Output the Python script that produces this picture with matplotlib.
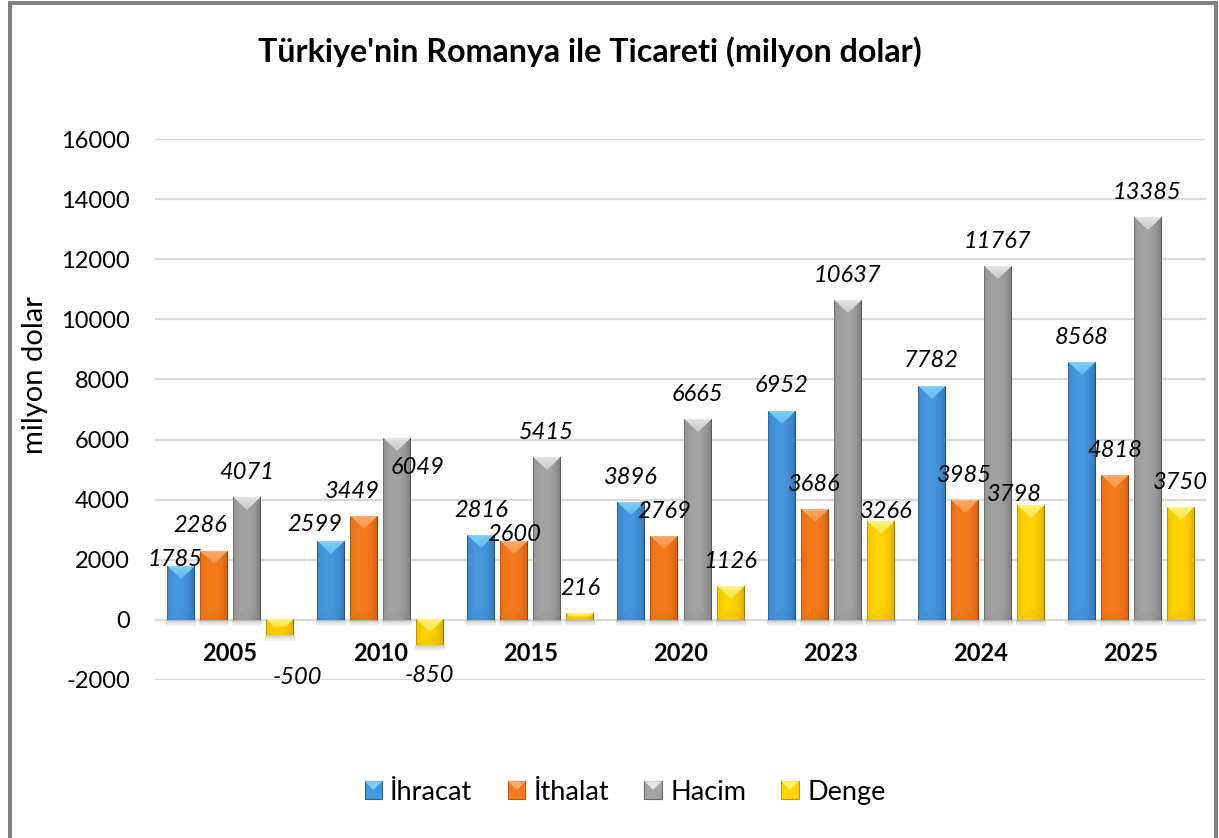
import numpy as np
import matplotlib
matplotlib.use("Agg")
import matplotlib.pyplot as plt
from matplotlib.colors import to_rgb
from matplotlib.patches import Rectangle, Polygon
from matplotlib.lines import Line2D
from matplotlib.legend_handler import HandlerBase

# ---------------- data ----------------
years = ["2005", "2010", "2015", "2020", "2023", "2024", "2025"]
ihracat = [1785, 2599, 2816, 3896, 6952, 7782, 8568]
ithalat = [2286, 3449, 2600, 2769, 3686, 3985, 4818]
hacim = [4071, 6049, 5415, 6665, 10637, 11767, 13385]
denge = [-500, -850, 216, 1126, 3266, 3798, 3750]
series_names = ["İhracat", "İthalat", "Hacim", "Denge"]
title = "Türkiye'nin Romanya ile Ticareti (milyon dolar)"
ylabel = "milyon dolar"
yticks = [-2000, 0, 2000, 4000, 6000, 8000, 10000, 12000, 14000, 16000]

# ---------------- style ----------------
plt.rcParams["font.family"] = ["Lato", "DejaVu Sans"]
plt.rcParams["axes.unicode_minus"] = False
W_PX, H_PX = 1219, 838
series_colors = [
    dict(base="#4597DE", dark="#2B63A3", light="#7DD0F7"),   # İhracat
    dict(base="#F57A1C", dark="#C2520C", light="#FBA869"),   # İthalat
    dict(base="#A3A3A3", dark="#6B6B6B", light="#E4E4E4"),   # Hacim
    dict(base="#FFD400", dark="#C99600", light="#FFF07A"),   # Denge
]
# manual label nudges (dx px, dy px from bar end) for (series, category)
label_nudge = {
    (0, 0): (-5, 9), (1, 0): (-13, 28), (3, 0): (18, -41),
    (0, 1): (-16, 19), (1, 1): (-11, 27), (2, 1): (21, -27),
    (1, 2): (0, 9),
    (3, 4): (6, 12),
    (3, 5): (-16, 13),
}

fig = plt.figure(figsize=(W_PX / 100, H_PX / 100), dpi=100)
ax = fig.add_axes([155 / W_PX, 1 - 680 / H_PX, (1206 - 155) / W_PX, (680 - 139) / H_PX])
ax.set_xlim(-0.5, len(years) - 0.5)
ax.set_ylim(-2000, 16000)
ax.set_yticks(yticks)
ax.yaxis.grid(True, color="#D9D9D9", lw=1.6)
ax.set_axisbelow(True)
for s in ax.spines.values():
    s.set_visible(False)
ax.spines["bottom"].set_position(("data", 0))
ax.tick_params(axis="y", length=0, pad=18, labelsize=17)
x = np.arange(len(years))
ax.set_xticks(x)
ax.set_xticklabels(years, fontweight="bold", fontsize=17)
ax.tick_params(axis="x", length=0, pad=16)


def make_img(W, H, c):
    base, dark, light = (np.array(to_rgb(c[k])) for k in ("base", "dark", "light"))
    xs = (np.arange(W) + 0.5) / W
    prof = np.clip(1 - ((xs - 0.42) / 0.6) ** 2, 0, 1) ** 0.6
    body = dark[None, :] + (base - dark)[None, :] * prof[:, None]
    img = np.tile(body[None, :, :], (H, 1, 1))
    ys = np.arange(H) + 0.5
    xp = np.arange(W) + 0.5
    side = np.minimum(xp, W - xp)
    b = min(W / 2.0, H / 2.0)
    top = (ys[:, None] < side[None, :]) & (ys[:, None] < b)
    t = np.clip(1 - ys / max(b, 1), 0, 1)[:, None, None]
    lite = light[None, None, :] * (0.55 + 0.45 * t) + img * (0.45 - 0.45 * t)
    img = np.where(top[..., None], lite, img)
    bot = ((H - ys)[:, None] < side[None, :]) & ((H - ys)[:, None] < b)
    img = np.where(bot[..., None], img * 0.97, img)
    img[:, 0] *= 0.8
    img[:, -1] *= 0.72
    img[0, :] = img[0, :] * 0.9 + 0.1
    return np.clip(img, 0, 1)


values = [ihracat, ithalat, hacim, denge]
width, step = 0.18, 0.22
offsets = (np.arange(len(series_names)) - 1.5) * step
containers = []
for si, (vals, c) in enumerate(zip(values, series_colors)):
    bc = ax.bar(x + offsets[si], vals, width, color=c["base"], zorder=2, label=series_names[si])
    containers.append(bc)
    for ci, p in enumerate(bc.patches):
        x0, w = p.get_x(), p.get_width()
        yb, yt = min(p.get_y(), p.get_y() + p.get_height()), max(p.get_y(), p.get_y() + p.get_height())
        p0 = ax.transData.transform((x0, yb))
        p1 = ax.transData.transform((x0 + w, yt))
        Wp = max(2, int(round(p1[0] - p0[0])))
        Hp = max(2, int(round(p1[1] - p0[1])))
        ax.imshow(make_img(Wp, Hp, c), extent=(x0, x0 + w, yb, yt), origin="upper",
                  aspect="auto", interpolation="antialiased", zorder=3)
        # soft shadow under bar end
        sh_h = 7
        ppx = (yt - yb) / max(p1[1] - p0[1], 1e-9)
        sh = np.zeros((sh_h, Wp + 2, 4))
        sh[..., :3] = 0.45
        sh[..., 3] = np.linspace(0.35, 0.0, sh_h)[:, None]
        dxd = 1.0 * w / Wp
        ax.imshow(sh, extent=(x0 - dxd, x0 + w + dxd, yb - sh_h * ppx, yb), origin="upper",
                  aspect="auto", interpolation="bilinear", zorder=1.5)
        v = vals[ci]
        dx, dy = label_nudge.get((si, ci), (0, 27 if v >= 0 else -28))
        ax.annotate(f"{v}", xy=(x[ci] + offsets[si], v), xytext=(dx, dy), textcoords="offset pixels",
                    ha="center", va="center_baseline", fontstyle="italic", fontsize=17, zorder=5)

ax.set_xlim(-0.5, len(years) - 0.5)
ax.set_ylim(-2000, 16000)

# titles
fig.text(590 / W_PX, 1 - 62 / H_PX, title, ha="center", va="baseline", fontsize=23.2, fontweight="bold")
fig.text(35 / W_PX, 1 - 375 / H_PX, ylabel, rotation=90, ha="center", va="center", fontsize=21)


class ShadedHandler(HandlerBase):
    def __init__(self, colors):
        super().__init__()
        self.colors = colors

    def create_artists(self, legend, orig_handle, xdescent, ydescent, width, height, fontsize, trans):
        c = self.colors[orig_handle.get_label()]
        s = min(width, height)
        x0, y0 = -xdescent + (width - s) / 2, -ydescent + (height - s) / 2
        r = Rectangle((x0, y0), s, s, facecolor=c["base"], edgecolor=c["dark"], lw=0.8, transform=trans)
        tri = Polygon([(x0, y0 + s), (x0 + s, y0 + s), (x0 + s / 2, y0 + s / 2)], closed=True,
                      facecolor=c["light"], edgecolor="none", transform=trans)
        return [r, tri]


proxies = [Rectangle((0, 0), 1, 1, label=n) for n in series_names]
cmap = {n: c for n, c in zip(series_names, series_colors)}
fig.legend(handles=proxies, labels=series_names, loc="center", bbox_to_anchor=(625 / W_PX, 1 - 792 / H_PX),
           ncol=4, frameon=False, fontsize=19.5, handlelength=0.65, handleheight=0.65,
           handletextpad=0.3, columnspacing=1.3, handler_map={Rectangle: ShadedHandler(cmap)})

# figure border
bc_ = "#808080"
lw = 2.9
fig.add_artist(Line2D([9.5 / W_PX, 9.5 / W_PX], [0, 1 - 3 / H_PX], color=bc_, lw=lw))
fig.add_artist(Line2D([1215.5 / W_PX, 1215.5 / W_PX], [0, 1 - 3 / H_PX], color=bc_, lw=lw))
fig.add_artist(Line2D([9.5 / W_PX, 1215.5 / W_PX], [1 - 3 / H_PX, 1 - 3 / H_PX], color=bc_, lw=lw))

fig.savefig("out.png", dpi=100)
